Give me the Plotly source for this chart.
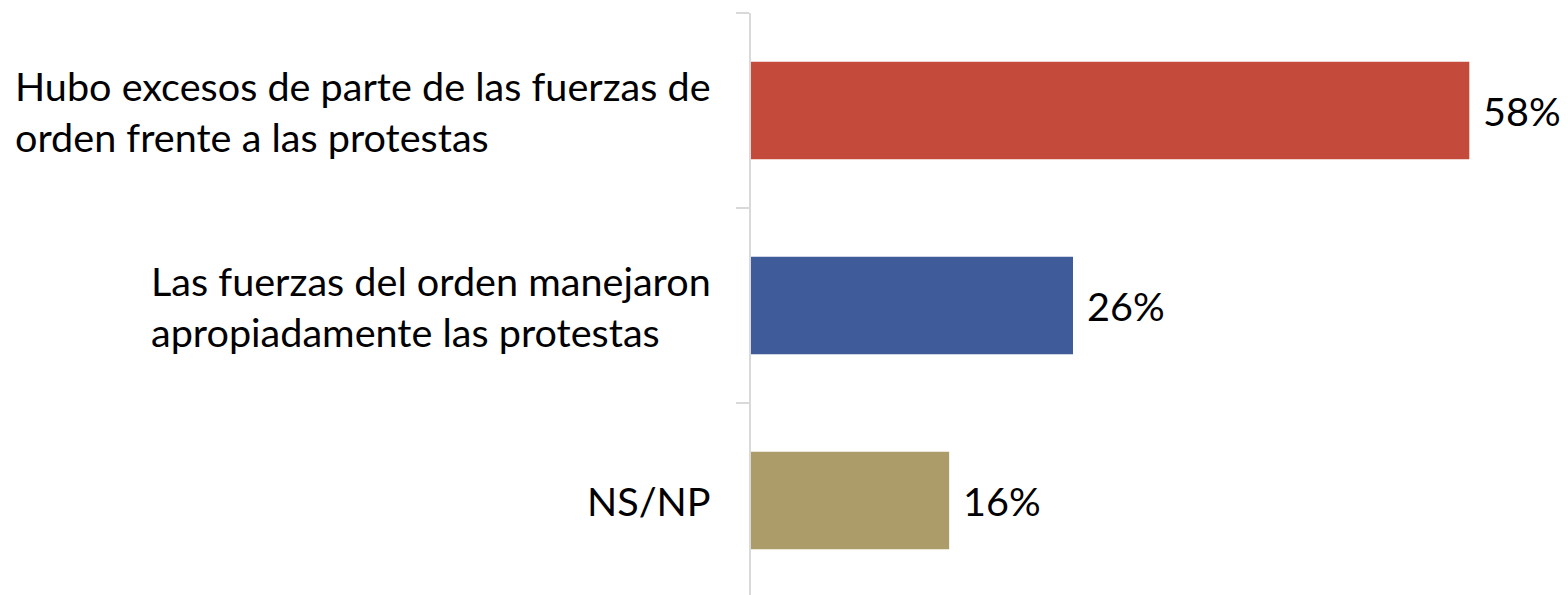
import plotly.graph_objects as go

categories = [
    "Hubo excesos de parte de las fuerzas de<br>orden frente a las protestas",
    "Las fuerzas del orden manejaron<br>apropiadamente las protestas",
    "NS/NP",
]
values = [58, 26, 16]
value_labels = ["58%", "26%", "16%"]
colors = ["#C44B3C", "#3F5B9A", "#AB9C69"]

FONT = "Lato"
FS = 39.6

fig = go.Figure()
fig.add_trace(go.Bar(
    x=values, y=categories, orientation="h",
    marker=dict(color=colors, line=dict(width=0)),
    width=0.5, hoverinfo="skip",
))

for cat, v, lab in zip(categories, values, value_labels):
    fig.add_annotation(x=v, y=cat, text=lab, showarrow=False, xanchor="left",
                       xshift=12, font=dict(family=FONT, size=FS, color="#000000"))
    fig.add_annotation(x=0, xref="x", y=cat, text=cat, showarrow=False, xanchor="right",
                       align="left", xshift=-38, font=dict(family=FONT, size=FS, color="#000000"))

fig.update_layout(
    width=1568, height=595,
    margin=dict(l=743, r=20, t=5, b=5),
    paper_bgcolor="white", plot_bgcolor="white",
    showlegend=False,
    bargap=0.5,
    xaxis=dict(range=[0, 65], visible=False, fixedrange=True),
    yaxis=dict(
        range=[2.5, -0.5],
        showticklabels=False,
        showgrid=False, zeroline=False,
        showline=True, linecolor="#D9D9D9", linewidth=2,
        ticks="outside", ticklen=13, tickcolor="#D9D9D9", tickwidth=2,
        tickson="boundaries",
    ),
)

fig.write_html("out.html")
